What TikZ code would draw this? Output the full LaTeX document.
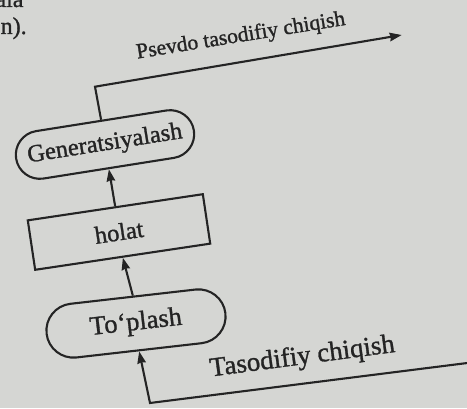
\documentclass[tikz,border=0pt]{standalone}
\usepackage{fontspec}
\setmainfont{Liberation Serif}[FakeBold=1.2]
\newfontfamily\printfont{Liberation Serif}[FakeBold=1.2]

\usetikzlibrary{shapes.misc,arrows.meta}

\definecolor{paper}{RGB}{213,214,211}
\definecolor{ink}{RGB}{36,36,36}

\tikzset{
  every node/.style={text=ink},
  stadium/.style={draw=ink, line width=2.1pt, rounded rectangle, inner sep=0pt,
    minimum width=180pt, minimum height=48pt},
  statebox/.style={draw=ink, line width=2.1pt, rectangle, inner sep=0pt,
    minimum width=177pt, minimum height=50pt},
  flow/.style={draw=ink, line width=2.1pt,
    -{Stealth[length=12pt, width=8.5pt, inset=1pt]}},
  label font/.style={font=\printfont\fontsize{#1}{#1}\selectfont}
}

\begin{document}
\begin{tikzpicture}[x=1pt, y=1pt]
  % page area
  \fill[paper] (0,0) rectangle (467,408);
  \useasboundingbox (0,0) rectangle (467,408);
  \clip (0,0) rectangle (467,408);

  % end of the preceding paragraph
  \node[anchor=base east, label font=24] (prevA) at (27,401) {ala};
  \node[anchor=base west, inner sep=0pt, label font=24] (prevB) at (0.5,374) {n).};

  % blocks
  \node[stadium, rotate=9, label font=24.5]
    (gen) at (105,263.5) {Generatsiyalash};
  \node[statebox, rotate=8.5, label font=24.5]
    (holat) at (119,176) {holat};
  \node[stadium, rotate=6.5, minimum width=180pt, minimum height=54pt,
    label font=26.5]
    (top) at (136,84.5) {To‘plash};

  % pseudo-random output
  \coordinate (outcorner) at (95,321.3);
  \coordinate (outtip) at (401.7,373);
  \draw[flow] (gen.north) -- (outcorner) -- (outtip);
  \node[anchor=base, rotate=9.2, label font=21.6]
    (outlabel) at (241.7,366.3) {Psevdo tasodifiy chiqish};

  % internal flow
  \draw[flow] (holat.north) -- (gen.south);
  \draw[flow] (top.north) -- (holat.south);

  % random input
  \coordinate (inend) at (480,46.6);
  \coordinate (incorner) at (150,5);
  \draw[flow] (inend) -- (incorner) -- (top.south);
  \node[anchor=base, rotate=7.6, label font=27]
    (inlabel) at (303.3,43.8) {Tasodifiy chiqish};
\end{tikzpicture}
\end{document}
